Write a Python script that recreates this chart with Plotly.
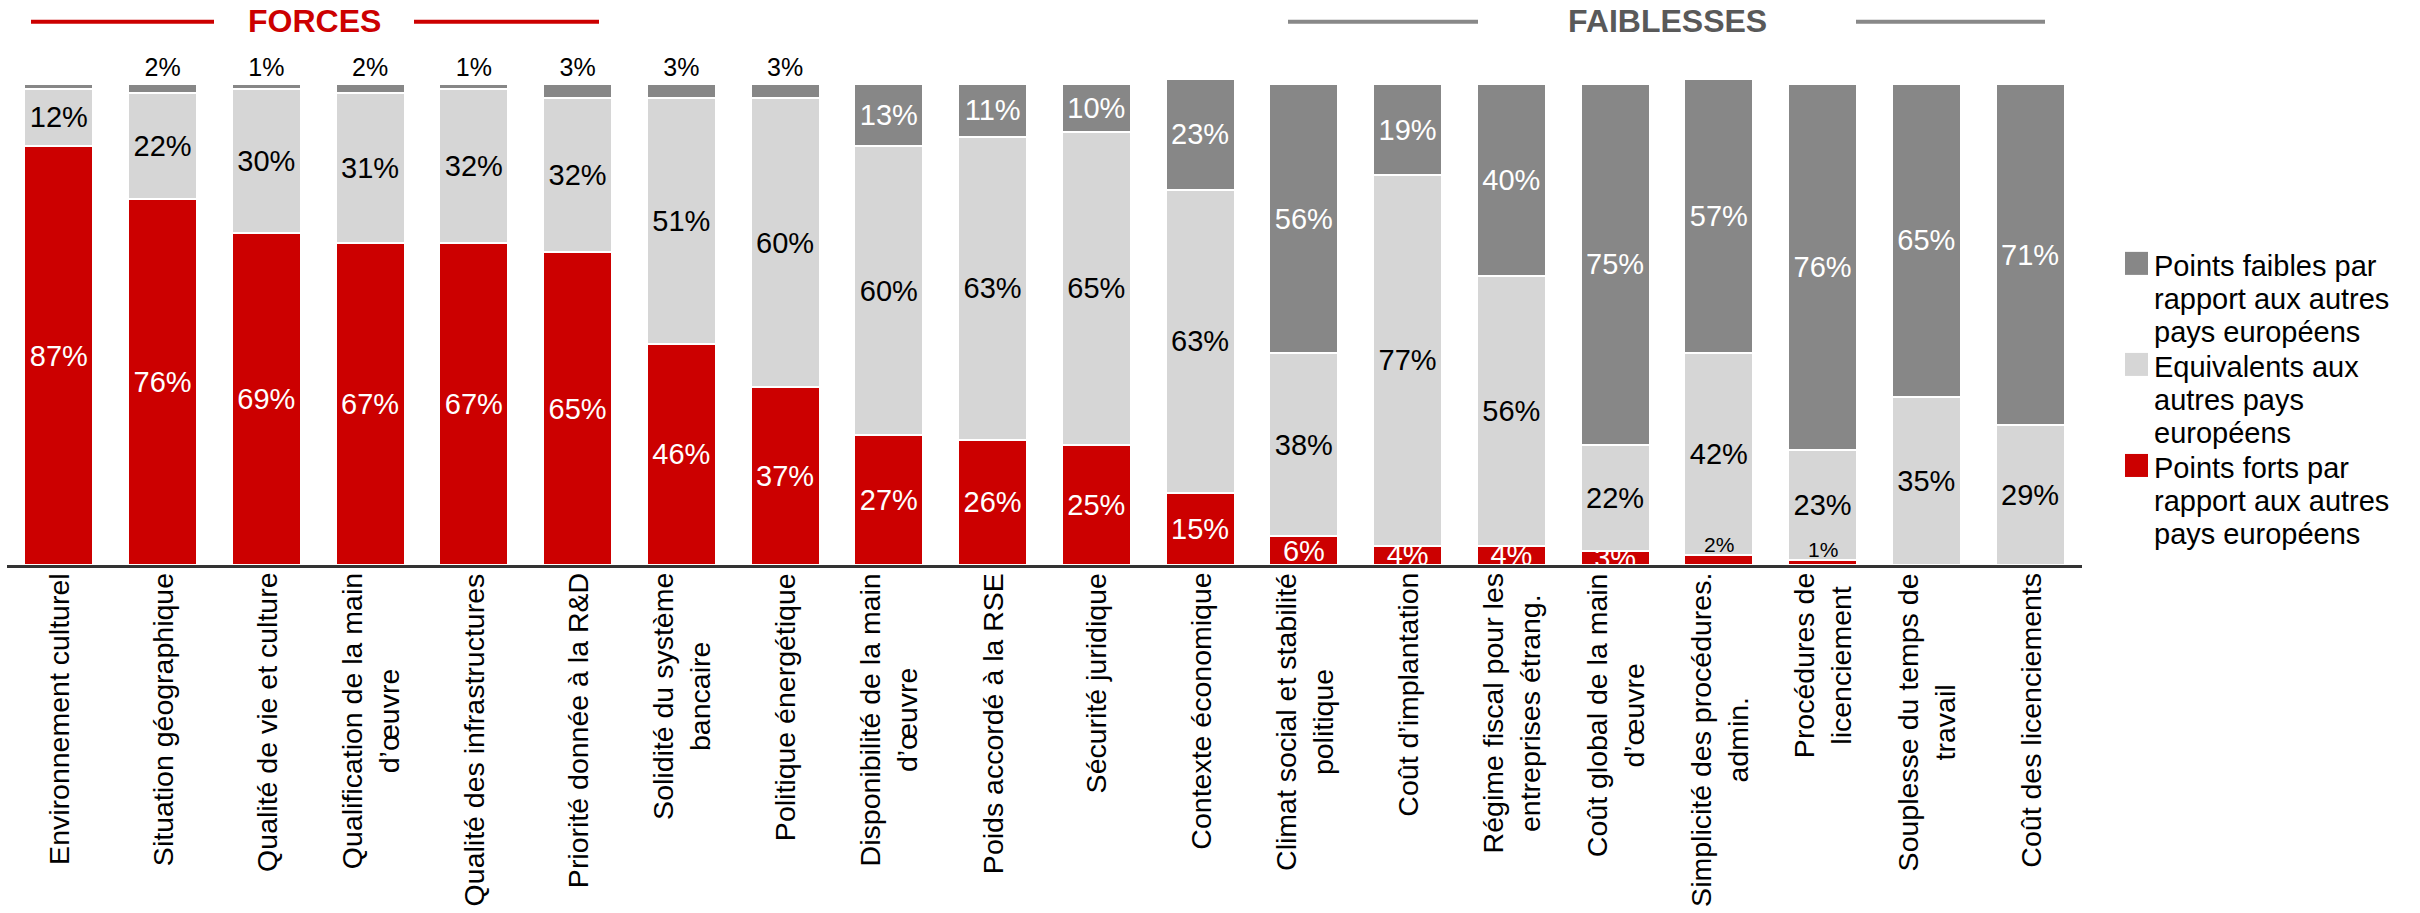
import plotly.graph_objects as go

# Catégories (axe des x) et libellés affichés
categories = [
    "Environnement culturel", "Situation géographique", "Qualité de vie et culture",
    "Qualification de la main d’œuvre", "Qualité des infrastructures",
    "Priorité donnée à la R&D", "Solidité du système bancaire", "Politique énergétique",
    "Disponibilité de la main d’œuvre", "Poids accordé à la RSE", "Sécurité juridique",
    "Contexte économique", "Climat social et stabilité politique", "Coût d’implantation",
    "Régime fiscal pour les entreprises étrang.", "Coût global de la main d’œuvre",
    "Simplicité des procédures. admin.", "Procédures de licenciement",
    "Souplesse du temps de travail", "Coût des licenciements",
]
tick_labels = [
    "Environnement culturel", "Situation géographique", "Qualité de vie et culture",
    "Qualification de la main<br>d’œuvre", "Qualité des infrastructures",
    "Priorité donnée à la R&D", "Solidité du système<br>bancaire", "Politique énergétique",
    "Disponibilité de la main<br>d’œuvre", "Poids accordé à la RSE", "Sécurité juridique",
    "Contexte économique", "Climat social et stabilité<br>politique", "Coût d’implantation",
    "Régime fiscal pour les<br>entreprises étrang.", "Coût global de la main<br>d’œuvre",
    "Simplicité des procédures.<br>admin.", "Procédures de<br>licenciement",
    "Souplesse du temps de<br>travail", "Coût des licenciements",
]

# Séries (%)
forts = [87, 76, 69, 67, 67, 65, 46, 37, 27, 26, 25, 15, 6, 4, 4, 3, 2, 1, 0, 0]
equivalents = [12, 22, 30, 31, 32, 32, 51, 60, 60, 63, 65, 63, 38, 77, 56, 22, 42, 23, 35, 29]
faibles = [1, 2, 1, 2, 1, 3, 3, 3, 13, 11, 10, 23, 56, 19, 40, 75, 57, 76, 65, 71]
faibles_shown = [False] + [True] * 19

legend_lines = [
    ["Points faibles par", "rapport aux autres", "pays européens"],
    ["Equivalents aux", "autres pays", "européens"],
    ["Points forts par", "rapport aux autres", "pays européens"],
]

RED = "#CC0000"
LIGHT = "#D6D6D6"
DARK = "#878787"
FONT = "Liberation Sans, Arial, sans-serif"

# zone du graphique en pixels (100 % -> y=84, 0 % -> y=565)
W, H = 2420, 913
YMAX = 101
PL, PR, PB = 7, 2082, 565
PT = PB - (PB - 84) * YMAX / 100


def px_x(px):
    return (px - PL) / (PR - PL)


def px_y(py):
    return (PB - py) / (PB - PT)


fig = go.Figure()

# =========================
# Barres empilées
# =========================

fig.add_trace(go.Bar(
    x=categories, y=forts,
    marker=dict(color=RED, line=dict(color="white", width=2)),
    text=[f"{v}%" if v > 2 else "" for v in forts],
    textposition="inside", insidetextanchor="middle", textangle=0,
    insidetextfont=dict(family=FONT, size=29, color="white"),
    constraintext="none", name="forts",
))

fig.add_trace(go.Bar(
    x=categories, y=equivalents,
    marker=dict(color=LIGHT, line=dict(color="white", width=2)),
    text=[f"{v}%" for v in equivalents],
    textposition="inside", insidetextanchor="middle", textangle=0,
    insidetextfont=dict(family=FONT, size=29, color="black"),
    constraintext="none", name="equivalents",
))

fig.add_trace(go.Bar(
    x=categories, y=faibles,
    marker=dict(color=DARK, line=dict(color="white", width=2)),
    text=[f"{v}%" if s else "" for v, s in zip(faibles, faibles_shown)],
    textposition=["outside" if v <= 3 else "inside" for v in faibles],
    insidetextanchor="middle", textangle=0,
    insidetextfont=dict(family=FONT, size=29, color="white"),
    outsidetextfont=dict(family=FONT, size=25, color="black"),
    constraintext="none", cliponaxis=False, name="faibles",
))

annotations = []
shapes = []

# petits points forts (1-2 %) écrits au-dessus du segment
for c, v in zip(categories, forts):
    if 0 < v <= 2:
        annotations.append(dict(
            x=c, y=v, xref="x", yref="y", yanchor="bottom", yshift=-3,
            text=f"{v}%", showarrow=False,
            font=dict(family=FONT, size=21, color="black"),
        ))

# libellés de l'axe des x
for c, lab in zip(categories, tick_labels):
    annotations.append(dict(
        x=c, y=0, xref="x", yref="paper", xanchor="center", yanchor="top",
        yshift=-6, text=lab, textangle=-90, align="center", showarrow=False,
        font=dict(family=FONT, size=28.5, color="black"),
    ))

# =========================
# En-têtes FORCES / FAIBLESSES
# =========================

headers = [("FORCES", 314, RED, RED, (31, 214), (414, 599)),
           ("FAIBLESSES", 1667, "#595959", "#888888", (1288, 1478), (1856, 2045))]
for txt, cx, tcol, lcol, seg1, seg2 in headers:
    annotations.append(dict(
        x=px_x(cx), y=px_y(21), xref="paper", yref="paper",
        xanchor="center", yanchor="middle", text=f"<b>{txt}</b>", showarrow=False,
        font=dict(family=FONT, size=32, color=tcol),
    ))
    for a, b in (seg1, seg2):
        shapes.append(dict(
            type="line", xref="paper", yref="paper",
            x0=px_x(a), x1=px_x(b), y0=px_y(22), y1=px_y(22),
            line=dict(color=lcol, width=4),
        ))

# =========================
# Légende
# =========================

legend_colors = [DARK, LIGHT, RED]
legend_tops = [252, 353, 454]
for lines, col, top in zip(legend_lines, legend_colors, legend_tops):
    shapes.append(dict(
        type="rect", xref="paper", yref="paper",
        x0=px_x(2125), x1=px_x(2148), y0=px_y(top), y1=px_y(top + 23),
        fillcolor=col, line=dict(width=0),
    ))
    for k, line in enumerate(lines):
        annotations.append(dict(
            x=px_x(2152), y=px_y(top + 14 + 33 * k), xref="paper", yref="paper",
            xanchor="left", yanchor="middle", align="left", text=line, showarrow=False,
            font=dict(family=FONT, size=29, color="black"),
        ))

fig.update_layout(
    barmode="stack",
    bargap=0.335,
    width=W,
    height=H,
    margin=dict(l=PL, r=W - PR, t=PT, b=H - PB),
    paper_bgcolor="white",
    plot_bgcolor="white",
    showlegend=False,
    xaxis=dict(showline=True, linecolor="#333333", linewidth=2.5,
               showticklabels=False, ticks="", showgrid=False, zeroline=False),
    yaxis=dict(range=[0, YMAX], visible=False, showgrid=False),
    annotations=annotations,
    shapes=shapes,
)

fig.write_html("out.html", config={"displayModeBar": False},
               post_script="document.body.style.margin='0';")
